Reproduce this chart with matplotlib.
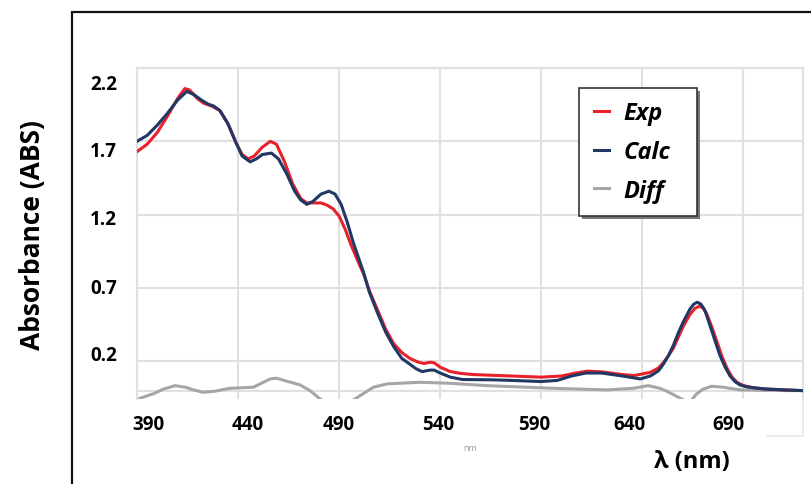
import matplotlib.pyplot as plt
from matplotlib.lines import Line2D
from matplotlib.patches import Rectangle

# ---- data ----
wl_exp = [390, 395, 400, 405, 410, 413.7, 416, 420, 423, 427, 431, 435, 439, 442, 445, 448,
          452, 456, 459, 463, 467, 471, 474, 478, 481, 484, 487, 490, 493, 496, 500, 502,
          505, 509, 513, 517, 521, 525, 529, 532, 535, 537, 540, 545, 550, 556, 565, 575,
          590, 600, 607, 613, 620, 630, 636, 644, 648, 650.4, 653, 655.4, 658, 660.3, 663.6,
          666, 668.2, 670, 672, 674.5, 677, 679.5, 682, 684.5, 687, 690, 694, 700, 710, 720]
exp = [1.63, 1.68, 1.76, 1.87, 1.99, 2.06, 2.05, 1.99, 1.96, 1.94, 1.91, 1.82, 1.69, 1.61, 1.58, 1.60,
       1.66, 1.70, 1.68, 1.56, 1.41, 1.31, 1.28, 1.28, 1.28, 1.265, 1.24, 1.19, 1.10, 0.99, 0.86, 0.80,
       0.68, 0.55, 0.42, 0.32, 0.26, 0.22, 0.195, 0.185, 0.194, 0.19, 0.16, 0.13, 0.118, 0.11, 0.105, 0.10,
       0.092, 0.10, 0.12, 0.133, 0.128, 0.11, 0.103, 0.125, 0.155, 0.19, 0.24, 0.29, 0.37, 0.44, 0.52,
       0.56, 0.576, 0.565, 0.52, 0.43, 0.33, 0.23, 0.15, 0.09, 0.055, 0.035, 0.022, 0.012, 0.005, 0.0]

wl_calc = [390, 395, 400, 405, 410, 414.6, 418, 422, 425, 428, 431, 435, 439, 442, 446, 449,
           452, 456.5, 460, 464, 468, 471, 474, 477, 481, 485, 488, 491, 494, 497, 500, 502,
           505, 509, 513, 517, 521, 525, 528, 531, 535, 537, 540, 545, 551, 556, 565, 575,
           590, 598, 605, 612, 620, 630, 639, 644, 648, 650.4, 653, 655.4, 658, 660.3, 663.6,
           665.5, 667.2, 669, 671, 673.5, 676, 678.4, 681, 683.4, 686, 688.3, 692, 700, 710, 720]
calc = [1.70, 1.74, 1.81, 1.89, 1.98, 2.04, 2.02, 1.98, 1.955, 1.94, 1.91, 1.82, 1.69, 1.60, 1.56, 1.58,
        1.61, 1.62, 1.58, 1.48, 1.36, 1.30, 1.27, 1.29, 1.34, 1.36, 1.34, 1.27, 1.15, 1.01, 0.89, 0.81,
        0.67, 0.53, 0.40, 0.30, 0.22, 0.18, 0.15, 0.13, 0.14, 0.14, 0.12, 0.092, 0.076, 0.075, 0.074, 0.07,
        0.062, 0.07, 0.10, 0.12, 0.12, 0.10, 0.08, 0.10, 0.135, 0.18, 0.24, 0.31, 0.40, 0.47, 0.557,
        0.59, 0.603, 0.59, 0.546, 0.443, 0.34, 0.24, 0.16, 0.10, 0.06, 0.039, 0.025, 0.012, 0.005, 0.0]

wl_diff = [390, 394, 398, 403, 408.8, 414, 418, 422.8, 428, 436, 447.5, 452.5, 456, 459, 464,
           470.7, 475.6, 480.5, 485, 490, 494, 497.9, 502, 506.9, 513.6, 530, 545, 563, 596,
           622.4, 635.6, 643, 648.8, 653, 657.1, 661.2, 664, 666.9, 670, 674.3, 680.1, 688.3, 700, 720]
diff = [-0.06, -0.04, -0.022, 0.01, 0.034, 0.023, 0.005, -0.011, -0.005, 0.016, 0.023, 0.057, 0.08, 0.085, 0.065,
        0.039, 0.0, -0.056, -0.09, -0.11, -0.09, -0.056, -0.02, 0.023, 0.046, 0.057, 0.05, 0.034, 0.016,
        0.005, 0.016, 0.034, 0.016, -0.01, -0.04, -0.07, -0.07, -0.022, 0.01, 0.03, 0.023, 0.005, 0.002, 0.0]

x_grid = [390, 440, 490, 540, 590, 640, 690]
y_grid = [0.0, 0.2, 0.7, 1.2, 1.7, 2.2]
x_labels = ['390', '440', '490', '540', '590', '640', '690']
y_labels = ['2.2', '1.7', '1.2', '0.7', '0.2']
# where the tick labels sit (they are slightly off the grid in the original)
x_label_pos = [395.7, 444.7, 489.7, 539.1, 586.3, 633.5, 682.7]
y_label_pos = [2.107, 1.648, 1.189, 0.716, 0.262]

plt.rcParams['font.family'] = ['Open Sans', 'DejaVu Sans']

fig = plt.figure(figsize=(8.11, 4.85), dpi=100)
W, H = 811, 485
ax = fig.add_axes([137 / W, 1 - 400 / H, (803 - 137) / W, (400 - 69) / H])

ax.plot(wl_diff, diff, color='#a6a6a6', lw=2.2, label='Diff', zorder=2)
ax.plot(wl_exp, exp, color='#e8212b', lw=2.2, label='Exp', zorder=3)
ax.plot(wl_calc, calc, color='#1f3864', lw=2.2, label='Calc', zorder=4)

ax.set_xlim(390, 719.5)
ax.set_ylim(-0.057, 2.2)

ax.set_xticks(x_label_pos)
ax.set_xticklabels(x_labels)
ax.set_yticks(y_label_pos)
ax.set_yticklabels(y_labels)
ax.set_xticks(x_grid, minor=True)
ax.set_yticks(y_grid, minor=True)
ax.tick_params(which='both', length=0)
ax.tick_params(axis='x', pad=11, labelsize=13.5)
ax.tick_params(axis='y', pad=14.5, labelsize=13.5)
for t in ax.get_xticklabels() + ax.get_yticklabels():
    t.set_fontweight('bold')
ax.grid(False, which='major')
ax.grid(True, which='minor', color='#e0e0e0', lw=1.5)
ax.set_axisbelow(True)

for s in ['left', 'top', 'right']:
    ax.spines[s].set_color('#e0e0e0')
    ax.spines[s].set_linewidth(1.5)
ax.spines['bottom'].set_visible(False)

# legend: entries without frame, box drawn separately to match the original size
h, l = ax.get_legend_handles_labels()
order = [1, 2, 0]
leg = ax.legend([h[i] for i in order], [l[i] for i in order],
                loc='center left', bbox_to_anchor=(594 / W, 1 - 153 / H),
                bbox_transform=fig.transFigure, borderaxespad=0, borderpad=0,
                frameon=False, handlelength=0.62, handletextpad=0.62, labelspacing=0.62,
                prop={'size': 17, 'weight': 'bold', 'style': 'italic'})
leg.set_zorder(10)
box_x0, box_y0, box_x1, box_y1 = 579, 89, 697, 217
ax.add_patch(Rectangle(((box_x0 + 3) / W, 1 - (box_y1 + 3) / H), (box_x1 - box_x0) / W,
                       (box_y1 - box_y0) / H, transform=fig.transFigure, clip_on=False,
                       facecolor='#777777', edgecolor='none', zorder=7))
ax.add_patch(Rectangle((box_x0 / W, 1 - box_y1 / H), (box_x1 - box_x0) / W,
                       (box_y1 - box_y0) / H, transform=fig.transFigure, clip_on=False,
                       facecolor='white', edgecolor='#333333', lw=1.2, zorder=8))

# outer black frame
fig.patches.append(Rectangle((72 / W, -0.05), 1.1, 1 - 13 / H + 0.05,
                             transform=fig.transFigure, fill=False,
                             edgecolor='#111111', lw=1.6))
# faint plot-area corner line
fig.lines.append(Line2D([767 / W, 803 / W, 803 / W], [1 - 437 / H, 1 - 437 / H, 1 - 400 / H],
                        transform=fig.transFigure, color='#e6e6e6', lw=1.2))

fig.text(33 / W, 1 - 235 / H, 'Absorbance (ABS)', rotation=90, ha='center', va='center',
         fontsize=19, fontweight='bold')
fig.text(692 / W, 1 - 462 / H, 'λ (nm)', ha='center', va='center', fontsize=17, fontweight='bold')
fig.text(470 / W, 1 - 449 / H, 'nm', ha='center', va='center', fontsize=6.5, color='#999999')

fig.savefig('out.png', dpi=100)
